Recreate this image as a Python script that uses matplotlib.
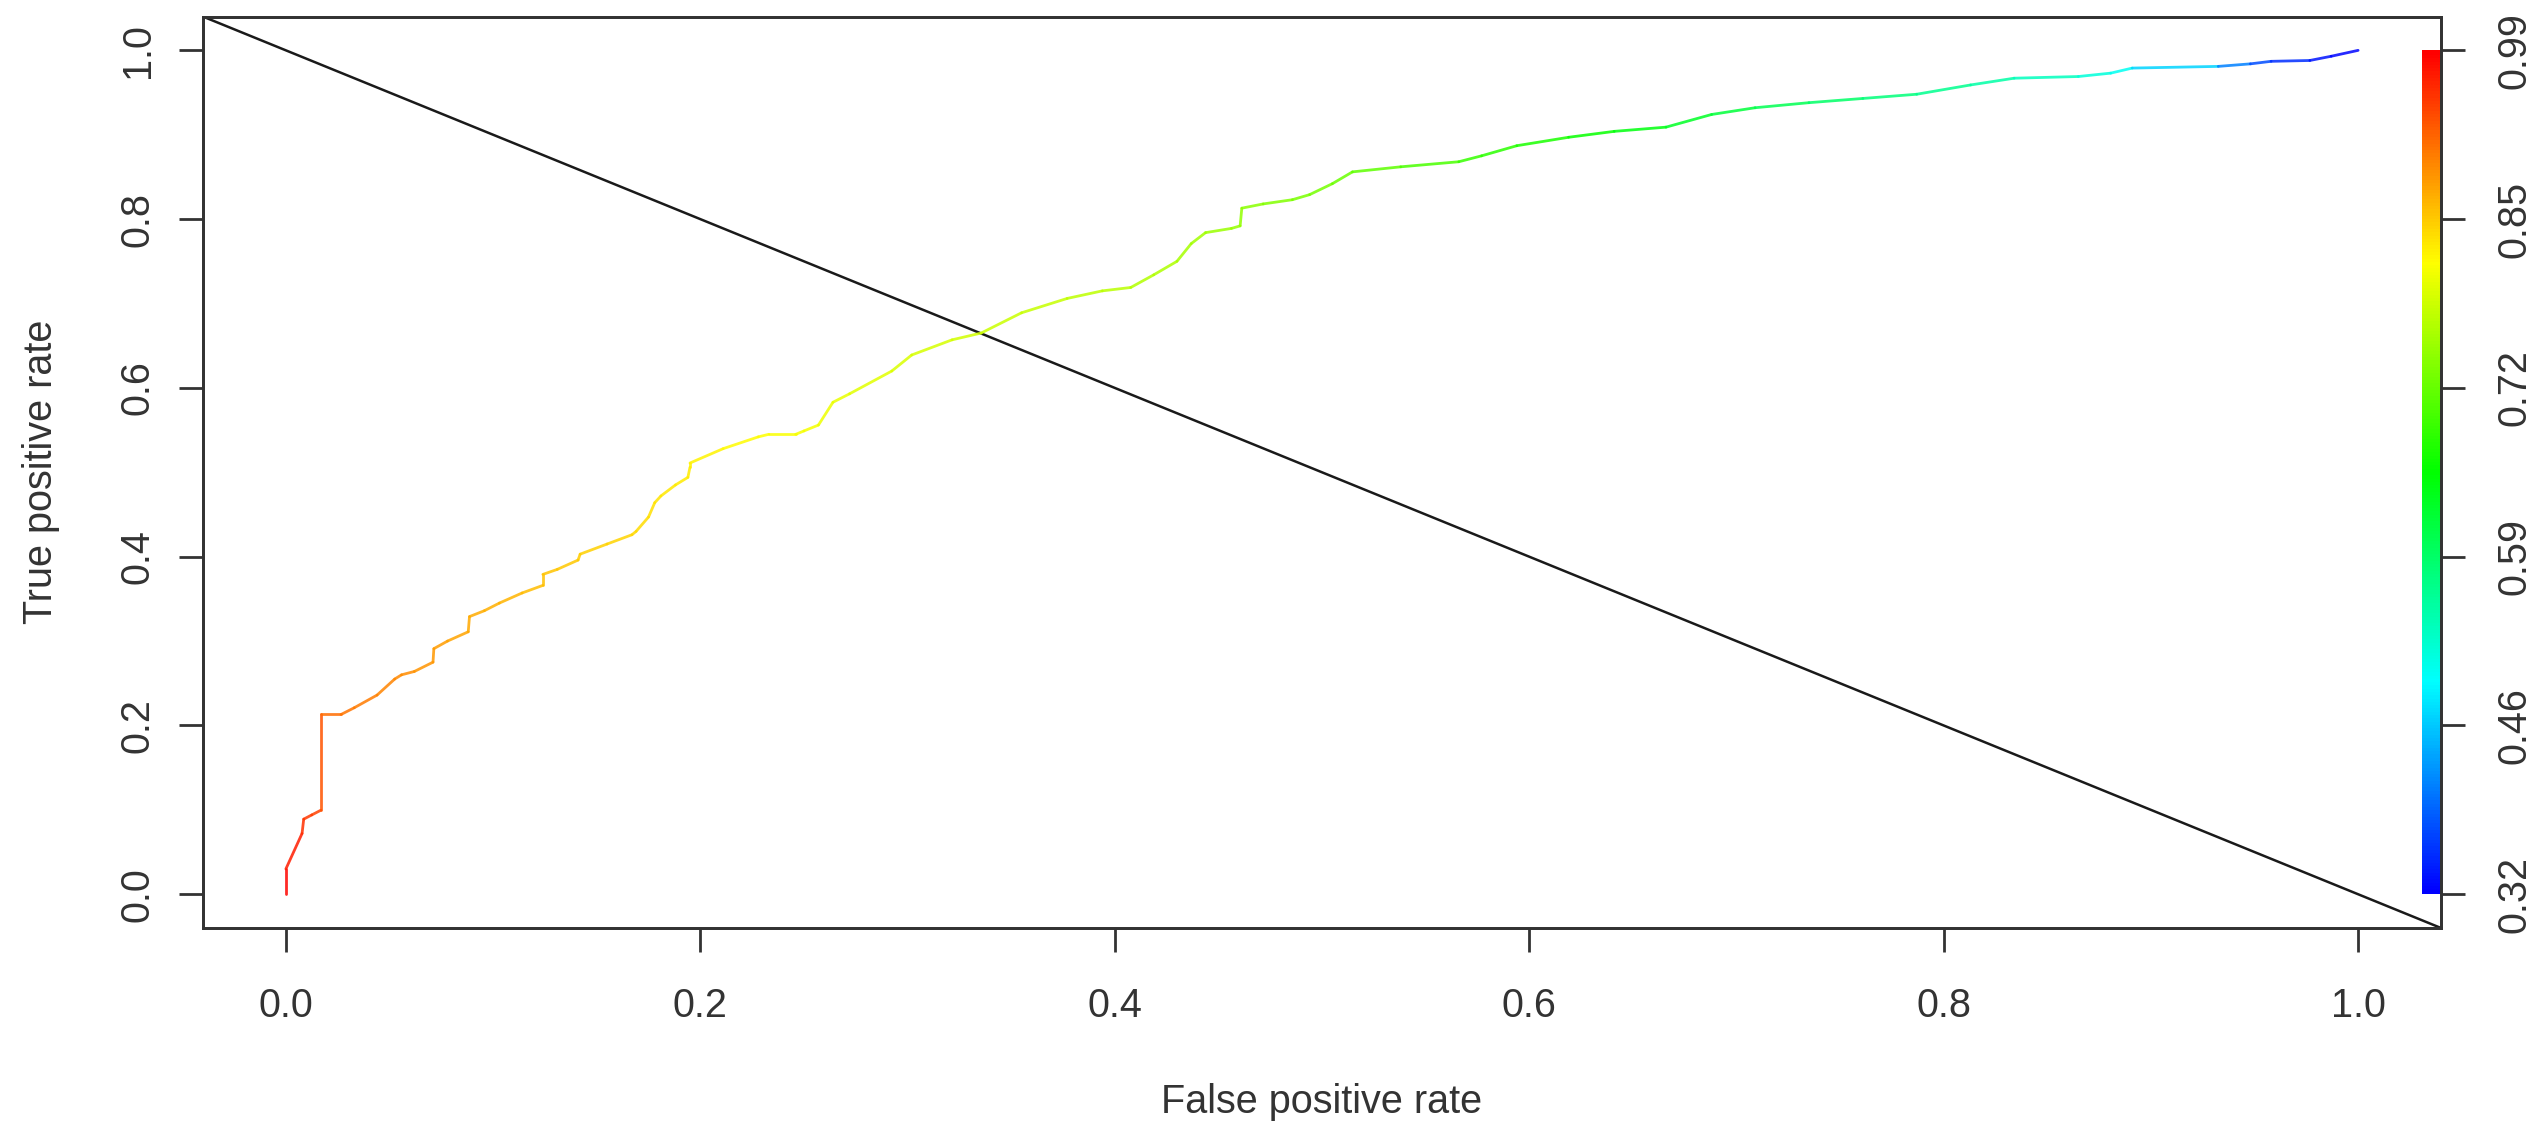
import numpy as np
import matplotlib
matplotlib.use("Agg")
import matplotlib.pyplot as plt
from matplotlib.collections import LineCollection
from matplotlib.colors import ListedColormap, Normalize, hsv_to_rgb

# ---- data ----
fpr = [0.000, 0.000, 0.0078, 0.0086, 0.0125, 0.0169, 0.0169, 0.0266, 0.033, 0.044,
       0.0525, 0.0558, 0.062, 0.071, 0.0714, 0.078, 0.088, 0.0886, 0.0958, 0.103,
       0.114, 0.124, 0.124, 0.131, 0.141, 0.142, 0.155, 0.167, 0.169, 0.175,
       0.178, 0.181, 0.188, 0.194, 0.195, 0.195, 0.211, 0.228, 0.233, 0.246,
       0.250, 0.257, 0.264, 0.272, 0.2924, 0.302, 0.3215, 0.3355, 0.355, 0.377,
       0.394, 0.4077, 0.4188, 0.430, 0.4369, 0.4438, 0.4563, 0.4605, 0.4613, 0.4716,
       0.4857, 0.494, 0.505, 0.5147, 0.538, 0.566, 0.577, 0.594, 0.619, 0.641,
       0.666, 0.688, 0.709, 0.735, 0.761, 0.787, 0.813, 0.834, 0.865, 0.8806,
       0.891, 0.9325, 0.948, 0.958, 0.9767, 0.987, 1.000]
tpr = [0.000, 0.030, 0.072, 0.089, 0.094, 0.0996, 0.213, 0.213, 0.221, 0.236,
       0.255, 0.260, 0.264, 0.275, 0.291, 0.300, 0.311, 0.329, 0.336, 0.345,
       0.357, 0.366, 0.379, 0.385, 0.396, 0.403, 0.415, 0.426, 0.430, 0.447,
       0.464, 0.472, 0.485, 0.494, 0.506, 0.511, 0.528, 0.542, 0.545, 0.545,
       0.549, 0.556, 0.583, 0.593, 0.620, 0.639, 0.657, 0.665, 0.689, 0.706,
       0.715, 0.719, 0.734, 0.750, 0.771, 0.784, 0.789, 0.792, 0.813, 0.818,
       0.823, 0.829, 0.842, 0.856, 0.862, 0.868, 0.875, 0.887, 0.897, 0.904,
       0.909, 0.924, 0.932, 0.938, 0.943, 0.948, 0.959, 0.967, 0.969, 0.973,
       0.979, 0.981, 0.984, 0.987, 0.988, 0.993, 1.000]
cutoff = [0.99, 0.98, 0.96, 0.955, 0.95, 0.945, 0.92, 0.915, 0.91, 0.905,
          0.90, 0.90, 0.895, 0.89, 0.888, 0.885, 0.88, 0.878, 0.875, 0.872,
          0.868, 0.865, 0.862, 0.86, 0.857, 0.855, 0.852, 0.848, 0.846, 0.843,
          0.84, 0.838, 0.836, 0.834, 0.832, 0.83, 0.826, 0.822, 0.82, 0.818,
          0.816, 0.814, 0.81, 0.806, 0.80, 0.797, 0.793, 0.79, 0.786, 0.782,
          0.778, 0.774, 0.77, 0.766, 0.762, 0.758, 0.754, 0.752, 0.748, 0.744,
          0.738, 0.734, 0.728, 0.722, 0.71, 0.695, 0.688, 0.678, 0.665, 0.652,
          0.638, 0.622, 0.61, 0.595, 0.58, 0.568, 0.555, 0.54, 0.52, 0.505,
          0.49, 0.43, 0.38, 0.36, 0.34, 0.33, 0.32]

x_ticks = [0.0, 0.2, 0.4, 0.6, 0.8, 1.0]
y_ticks = [0.0, 0.2, 0.4, 0.6, 0.8, 1.0]
x_tick_labels = ["0.0", "0.2", "0.4", "0.6", "0.8", "1.0"]
y_tick_labels = ["0.0", "0.2", "0.4", "0.6", "0.8", "1.0"]
cbar_labels = ["0.32", "0.46", "0.59", "0.72", "0.85", "0.99"]
cut_min, cut_max = 0.32, 0.99
x_label = "False positive rate"
y_label = "True positive rate"

# ---- figure ----
plt.rcParams['font.family'] = ['Liberation Sans', 'DejaVu Sans']
W, H = 2542, 1126
DPI = 100
fig = plt.figure(figsize=(W / DPI, H / DPI), dpi=DPI)
fig.patch.set_facecolor('white')

ax_l, ax_r, ax_t, ax_b = 203, 2441, 16.6, 928
ax = fig.add_axes([ax_l / W, 1 - ax_b / H, (ax_r - ax_l) / W, (ax_b - ax_t) / H])

# R rainbow(start=0, end=4/6): low cutoff -> blue, high cutoff -> red
hues = np.linspace(4 / 6, 0, 256)
rgb = hsv_to_rgb(np.stack([hues, np.ones(256), np.ones(256)], axis=1))
cmap = ListedColormap(rgb)
norm = Normalize(cut_min, cut_max)

pts = np.column_stack([fpr, tpr])
segs = np.stack([pts[:-1], pts[1:]], axis=1)
cut = np.asarray(cutoff)
segc = (cut[:-1] + cut[1:]) / 2
lc = LineCollection(segs, cmap=cmap, norm=norm, linewidths=2.0, alpha=0.85,
                    capstyle='round', joinstyle='round', zorder=3)
lc.set_array(segc)
ax.add_collection(lc)

# diagonal reference line (abline a=1, b=-1)
ax.axline((0, 1), slope=-1, color='#1a1a1a', lw=1.8, zorder=2)

# colour key inside plot on right
grad = np.linspace(cut_min, cut_max, 256).reshape(-1, 1)
ax.imshow(grad, cmap=cmap, norm=norm, origin='lower',
          extent=(1.031, 1.04, 0, 1), aspect='auto',
          interpolation='bilinear', zorder=1)

ax.set_xlim(-0.04, 1.04)
ax.set_ylim(-0.04, 1.04)

fs = 28.5
tcol = '#333333'
lw_ax = 2.0
for s in ax.spines.values():
    s.set_color(tcol)
    s.set_linewidth(lw_ax)

ax.set_xticks(x_ticks, x_tick_labels, fontsize=fs, color=tcol)
ax.set_yticks(y_ticks, y_tick_labels, fontsize=fs, color=tcol,
              rotation=90, va='center', ha='right')
ax.tick_params(axis='x', direction='out', length=17, width=lw_ax, color=tcol, pad=25.5)
ax.tick_params(axis='y', direction='out', length=17, width=lw_ax, color=tcol, pad=16.2)

ax2 = ax.twinx()
ax2.set_ylim(-0.04, 1.04)
ax2.set_yticks(np.linspace(0, 1, len(cbar_labels)), cbar_labels, fontsize=fs,
               color=tcol, rotation=90, va='center', ha='left')
ax2.tick_params(axis='y', direction='out', length=17, width=lw_ax, color=tcol, pad=22.3)
for s in ax2.spines.values():
    s.set_color(tcol)
    s.set_linewidth(lw_ax)

fig.text((ax_l + ax_r) / 2 / W, 1 - 1113 / H, x_label, fontsize=fs, color=tcol,
         ha='center', va='baseline')
fig.text(41 / W, 1 - (ax_t + ax_b) / 2 / H, y_label, fontsize=fs, color=tcol,
         rotation=90, ha='center', va='center')

fig.savefig('out.png', dpi=DPI, facecolor='white')
